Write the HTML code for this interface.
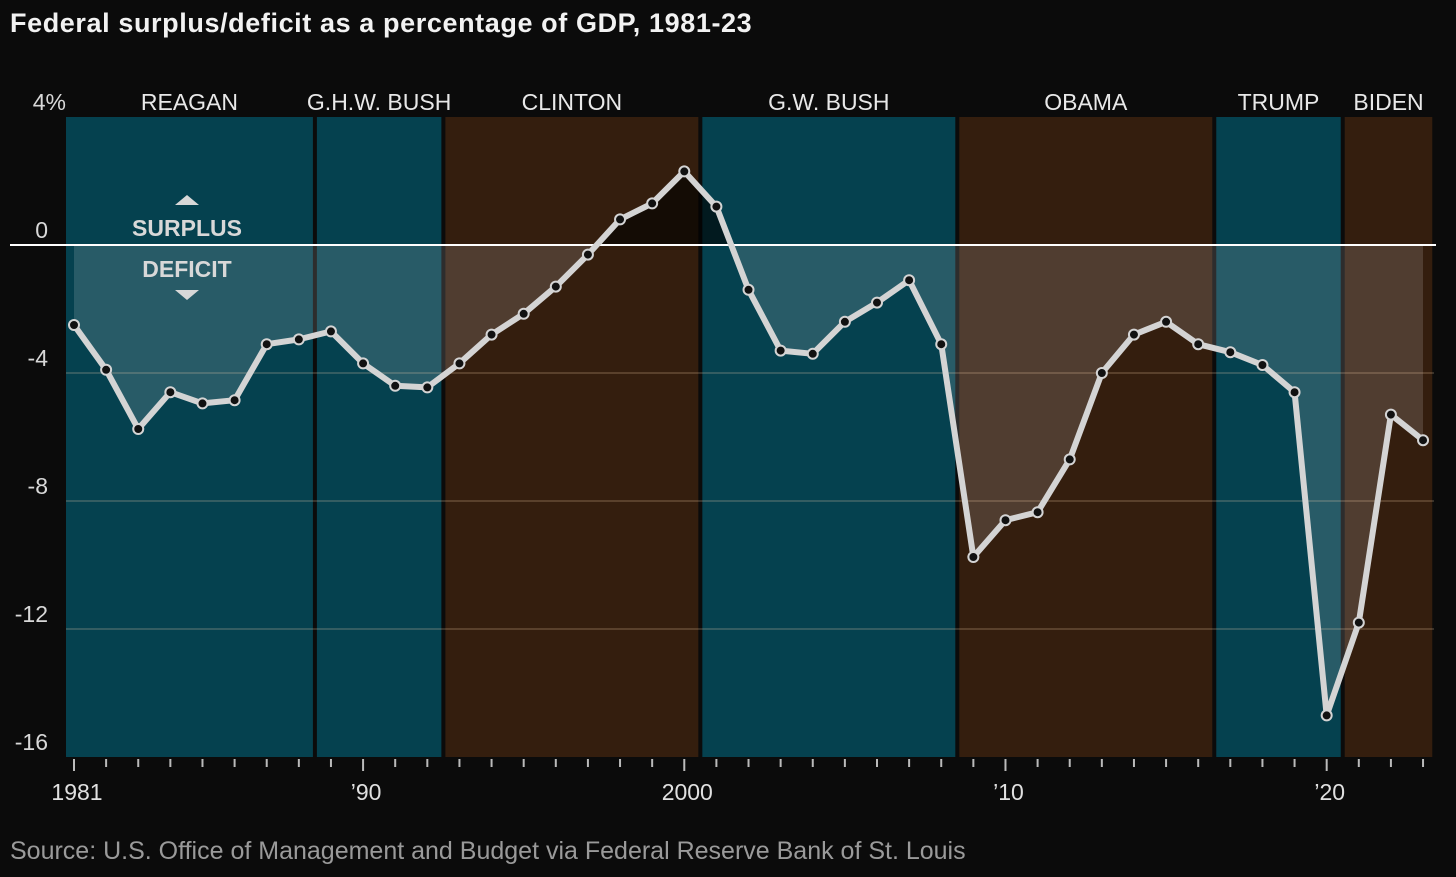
<!DOCTYPE html>
<html><head><meta charset="utf-8"><style>
body{margin:0;background:#0b0b0b;width:1456px;height:872px;overflow:hidden;font-family:"Liberation Sans",sans-serif}
</style></head><body>
<svg id="chart" width="1456" height="872" xmlns="http://www.w3.org/2000/svg">
<text x="10" y="32" fill="#f2f2f2" font-size="27" font-weight="bold" letter-spacing="0.6">Federal surplus/deficit as a percentage of GDP, 1981-23</text>
<text x="10" y="859" fill="#9a9a9a" font-size="25">Source: U.S. Office of Management and Budget via Federal Reserve Bank of St. Louis</text>
<g id="bands"></g><g id="fills"></g><g id="grid"></g><g id="line"></g><g id="axes"></g>
</svg>
<script>
const years=[1981,1982,1983,1984,1985,1986,1987,1988,1989,1990,1991,1992,1993,1994,1995,1996,1997,1998,1999,2000,2001,2002,2003,2004,2005,2006,2007,2008,2009,2010,2011,2012,2013,2014,2015,2016,2017,2018,2019,2020,2021,2022,2023];
const values=[-2.5,-3.9,-5.75,-4.6,-4.95,-4.85,-3.1,-2.95,-2.7,-3.7,-4.4,-4.45,-3.7,-2.8,-2.15,-1.3,-0.3,0.8,1.3,2.3,1.2,-1.4,-3.3,-3.4,-2.4,-1.8,-1.1,-3.1,-9.75,-8.6,-8.35,-6.7,-4.0,-2.8,-2.4,-3.1,-3.35,-3.75,-4.6,-14.7,-11.8,-5.3,-6.1];
const presidents=["REAGAN","G.H.W. BUSH","CLINTON","G.W. BUSH","OBAMA","TRUMP","BIDEN"];
const termStart=[1980.75,1988.5,1992.5,2000.5,2008.5,2016.5,2020.5];
const termEnd=[1988.5,1992.5,2000.5,2008.5,2016.5,2020.5,2023.35];
const party=["R","R","D","R","D","R","D"];
const yTicks=[4,0,-4,-8,-12,-16];
const yTickLabels=["4%","0","-4","-8","-12","-16"];
const xLabelYears=[1981,1990,2000,2010,2020];
const xLabels=["1981","’90","2000","’10","’20"];
const NS="http://www.w3.org/2000/svg";
const x=v=>74+(v-1981)*32.12;
const y=v=>245-(v)*32;
function mk(parent,tag,attrs){const e=document.createElementNS(NS,tag);for(const k in attrs)e.setAttribute(k,attrs[k]);document.getElementById(parent).appendChild(e);return e;}
const topY=y(4),botY=y(-16);
presidents.forEach((p,i)=>{
 const x0=Math.max(x(termStart[i]),66)+(i>0?2:0),x1=x(termEnd[i])-2;
 const r=mk('bands','rect',{x:x0,y:topY,width:x1-x0,height:botY-topY,fill:party[i]==="R"?"#05414f":"#341e0e"});
 
 
 const t=mk('axes','text',{x:(x0+x1)/2,y:110,fill:"#e8e8e8","font-size":23,"text-anchor":"middle"});
 t.textContent=p;
 
 
});
let pts=years.map((yr,i)=>x(yr)+","+y(values[i])).join(" ");
let poly=x(years[0])+","+y(0)+" "+pts+" "+x(years[years.length-1])+","+y(0);
const defs=mk('fills','defs',{});
const c1=document.createElementNS(NS,'clipPath');c1.setAttribute('id','below');defs.appendChild(c1);
const r1=document.createElementNS(NS,'rect');r1.setAttribute('x',0);r1.setAttribute('y',y(0));r1.setAttribute('width',1456);r1.setAttribute('height',600);c1.appendChild(r1);
const c2=document.createElementNS(NS,'clipPath');c2.setAttribute('id','above');defs.appendChild(c2);
const r2=document.createElementNS(NS,'rect');r2.setAttribute('x',0);r2.setAttribute('y',0);r2.setAttribute('width',1456);r2.setAttribute('height',y(0));c2.appendChild(r2);
const a1=mk('fills','polygon',{points:poly,fill:"rgba(255,255,255,0.14)","clip-path":"url(#below)"});


const a2=mk('fills','polygon',{points:poly,fill:"rgba(0,0,0,0.6)","clip-path":"url(#above)"});


yTicks.forEach((v,i)=>{
 if(v<0&&v>-16){const g=mk('grid','line',{x1:66,x2:1434,y1:y(v),y2:y(v),stroke:"rgba(255,220,180,0.25)","stroke-width":1.5});
 
 }
 const t=mk('axes','text',{x:48,y:y(v)-7,fill:"#d8d8d8","font-size":23,"text-anchor":"end"});
 if(v===4){t.setAttribute('x',66);t.setAttribute('y',110);}
 t.textContent=yTickLabels[i];
 
 
});
const z=mk('grid','line',{x1:10,x2:1436,y1:y(0),y2:y(0),stroke:"#ffffff","stroke-width":2});


const ln=mk('line','polyline',{points:pts,fill:"none",stroke:"#d4d4d4","stroke-width":6,"stroke-linejoin":"round"});


years.forEach((yr,i)=>{
 const c=mk('line','circle',{cx:x(yr),cy:y(values[i]),r:5,fill:"#111",stroke:"#d4d4d4","stroke-width":2});
 
 
 const tk=mk('axes','line',{x1:x(yr),x2:x(yr),y1:botY+2,y2:xLabelYears.includes(yr)?botY+14:botY+10,stroke:"#bbb","stroke-width":2});
 
 
});
xLabelYears.forEach((yr,i)=>{
 const t=mk('axes','text',{x:x(yr)+3,y:800,fill:"#e0e0e0","font-size":23,"text-anchor":"middle"});
 t.textContent=xLabels[i];
 
 
});
const s=mk('axes','text',{x:187,y:236,fill:"#d8d8d8","font-size":23,"font-weight":"bold","text-anchor":"middle"});s.textContent="SURPLUS";


const d=mk('axes','text',{x:187,y:277,fill:"#d8d8d8","font-size":23,"font-weight":"bold","text-anchor":"middle"});d.textContent="DEFICIT";


const up=mk('axes','polygon',{points:"175,205 187,195 199,205",fill:"#d8d8d8"});


const dn=mk('axes','polygon',{points:"175,290 187,300 199,290",fill:"#d8d8d8"});


</script>
</body></html>
